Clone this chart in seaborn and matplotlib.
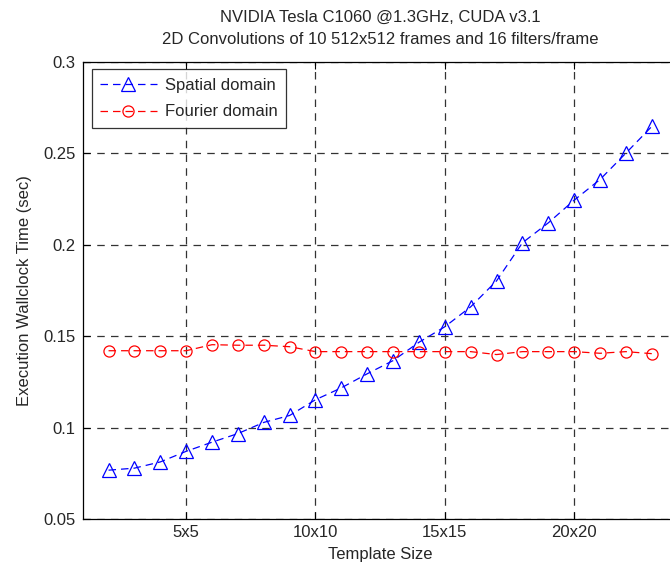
import matplotlib
matplotlib.use("Agg")
import matplotlib.pyplot as plt
import seaborn as sns
import numpy as np
import pandas as pd

template_size = list(range(2, 24))
spatial = [0.0767, 0.0778, 0.0812, 0.0870, 0.0920, 0.0967, 0.1028, 0.1066, 0.1152,
           0.1217, 0.1294, 0.1366, 0.1466, 0.1551, 0.1660, 0.1802, 0.2010, 0.2119,
           0.2243, 0.2356, 0.2500, 0.2646]
fourier = [0.1420, 0.1420, 0.1420, 0.1420, 0.1453, 0.1450, 0.1450, 0.1442, 0.1415,
           0.1415, 0.1415, 0.1415, 0.1415, 0.1415, 0.1415, 0.1399, 0.1415, 0.1415,
           0.1415, 0.1406, 0.1415, 0.1404]
xtick_pos = [5, 10, 15, 20]
xtick_labels = ["5x5", "10x10", "15x15", "20x20"]
ytick_vals = [0.05, 0.1, 0.15, 0.2, 0.25, 0.3]
ytick_labels = ["0.05", "0.1", "0.15", "0.2", "0.25", "0.3"]

FS = 12

sns.set_theme(style="white")
plt.rcParams['font.family'] = ['Liberation Sans', 'DejaVu Sans']
plt.rcParams['font.size'] = FS

fig = plt.figure(figsize=(6.7, 5.65), dpi=100)
ax = fig.add_axes([0.1234, 0.0814, 0.888, 0.8094])

df = pd.DataFrame({"x": template_size, "spatial": spatial, "fourier": fourier})
sns.lineplot(data=df, x="x", y="spatial", ax=ax, color=(0, 0, 1), linestyle=(0, (6, 4)),
             linewidth=0.9, marker="^", markersize=10, markerfacecolor="none",
             markeredgecolor=(0, 0, 1), markeredgewidth=0.9, label="Spatial domain")
sns.lineplot(data=df, x="x", y="fourier", ax=ax, color=(1, 0, 0), linestyle=(0, (6, 4)),
             linewidth=0.9, marker="o", markersize=8, markerfacecolor="none",
             markeredgecolor=(1, 0, 0), markeredgewidth=0.9, label="Fourier domain")

ax.set_xlim(1, 24)
ax.set_ylim(0.05, 0.3)
ax.set_xticks(xtick_pos)
ax.set_xticklabels(xtick_labels)
ax.set_yticks(ytick_vals)
ax.set_yticklabels(ytick_labels)
ax.grid(True, color="#333333", linestyle=(0, (6, 5)), linewidth=0.9)
ax.tick_params(direction="in", length=5, width=0.8, color="black", labelsize=FS,
               top=True, right=True, bottom=True, left=True)
ax.tick_params(axis="x", pad=4)
ax.tick_params(axis="y", pad=5)
for s in ax.spines.values():
    s.set_color("black")
    s.set_linewidth(0.9)

ax.set_xlabel("Template Size", fontsize=FS, labelpad=5)
ax.set_ylabel("Execution Wallclock Time (sec)", fontsize=FS, labelpad=8)
ax.set_title("NVIDIA Tesla C1060 @1.3GHz, CUDA v3.1\n2D Convolutions of 10 512x512 frames and 16 filters/frame",
             fontsize=FS, pad=13, linespacing=1.55)

leg = ax.legend(loc="upper left", bbox_to_anchor=(0.015, 0.983), borderaxespad=0,
                frameon=True, fancybox=False, edgecolor="black", fontsize=FS,
                handlelength=3.4, handletextpad=0.5, borderpad=0.5, labelspacing=0.7)
leg.get_frame().set_linewidth(0.9)

fig.savefig("out.png", dpi=100)
